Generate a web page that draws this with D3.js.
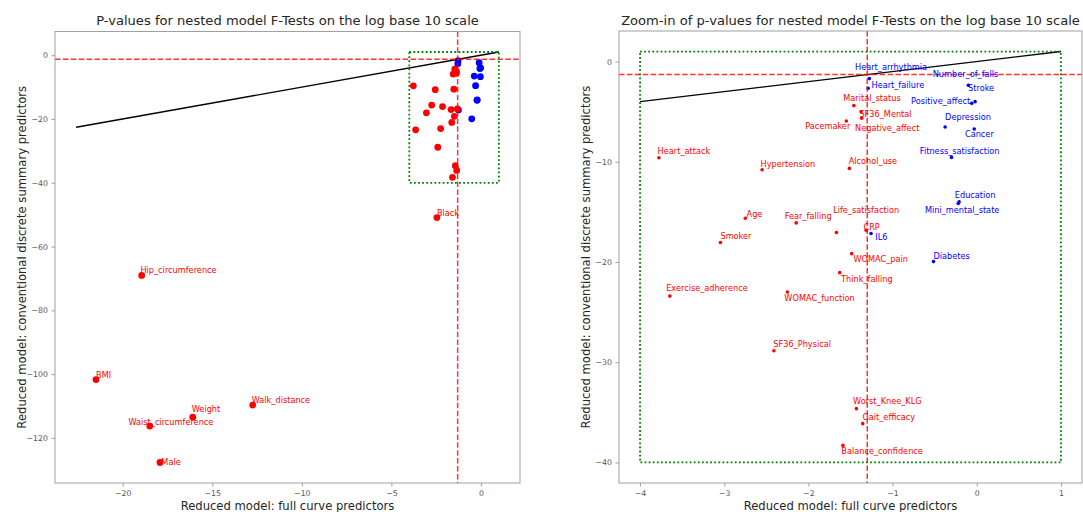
<!DOCTYPE html>
<html><head><meta charset="utf-8">
<script src="https://cdn.jsdelivr.net/npm/d3@7"></script>
<style>body{margin:0;background:#fff} svg{display:block;font-family:"DejaVu Sans",sans-serif}</style>
</head><body><svg id="c" width="1083" height="512"></svg>
<script>
// ---------------- data ----------------
const predictors = ["Heart_arrhythmia","Heart_failure","Number_of_falls","Stroke","Positive_affect","Depression","Cancer","Fitness_satisfaction","Education","Mini_mental_state","IL6","Diabetes","Marital_status","SF36_Mental","Negative_affect","Pacemaker","Heart_attack","Hypertension","Alcohol_use","Age","Fear_falling","Life_satisfaction","CRP","Smoker","WOMAC_pain","Think_falling","Exercise_adherence","WOMAC_function","SF36_Physical","Worst_Knee_KLG","Gait_efficacy","Balance_confidence","Black","Hip_circumference","BMI","Walk_distance","Weight","Waist_circumference","Male"];
const fullCurveLog10P = [-1.276,-1.29,-0.02,-0.10,-0.06,-0.376,-0.03,-0.30,-0.21,-0.22,-1.256,-0.514,-1.46,-1.374,-1.367,-1.55,-3.776,-2.55,-1.513,-2.75,-2.145,-1.667,-1.315,-3.045,-1.486,-1.628,-3.646,-2.25,-2.41,-1.43,-1.355,-1.59,-2.46,-18.94,-21.49,-12.74,-16.09,-18.49,-17.92];
const discreteLog10P = [-1.70,-2.66,-4.0,-2.36,-4.17,-6.53,-6.73,-9.56,-14.0,-14.16,-17.16,-19.96,-4.4,-5.0,-5.66,-5.93,-9.6,-10.8,-10.66,-15.63,-16.1,-17.06,-16.83,-18.06,-19.16,-21.06,-23.4,-23.0,-28.86,-34.63,-36.13,-38.3,-50.9,-69.06,-101.7,-109.7,-113.5,-116.3,-127.7];
const xTicksMain = [-20,-15,-10,-5,0];
const yTicksMain = [0,-20,-40,-60,-80,-100,-120];
const xTicksZoom = [-4,-3,-2,-1,0,1];
const yTicksZoom = [0,-10,-20,-30,-40];
const significanceLog10 = Math.log10(0.05);
const zoomBoxX = [-4, 1];
const zoomBoxY = [-40, 1];
const identityMain = [-22.6, 1];
const identityZoom = [-4, 1];
const titles = ["P-values for nested model F-Tests on the log base 10 scale","Zoom-in of p-values for nested model F-Tests on the log base 10 scale"];
const xLabelText = "Reduced model: full curve predictors";
const yLabelText = "Reduced model: conventional discrete summary predictors";

// ---------------- layout (pixel offsets of annotation text) ----------------
const mainLabelOffset = {Black:[0,-2],Hip_circumference:[-1.3,-2.5],BMI:[0,-1.8],Walk_distance:[-1,-2.2],Weight:[-1,-5],Waist_circumference:[-21.3,-1.2],Male:[1.4,2.2]};
const zoomLabelOffset = {Heart_arrhythmia:[-14.3,-8.7],Heart_failure:[3.3,0],Number_of_falls:[-42.4,-24.7],Stroke:[-0.3,5.7],Positive_affect:[-60.6,0.7],Depression:[0,-7.5],Cancer:[-9.3,8],Fitness_satisfaction:[-31.7,-3.3],Education:[-4.3,-4.2],Mini_mental_state:[-33.3,9.7],IL6:[4.3,6.2],Diabetes:[0,-2.5],Marital_status:[-10.6,-4.2],SF36_Mental:[-1.7,5.8],Negative_affect:[-6.6,12.7],Pacemaker:[-41,8.5],Heart_attack:[-1.3,-4.2],Hypertension:[-1.6,-3.2],Alcohol_use:[-0.7,-4.3],Age:[1.3,-1.5],Fear_falling:[-11.4,-4.2],Life_satisfaction:[-3.3,-19.5],CRP:[-2.6,0],Smoker:[0,-3.5],WOMAC_pain:[1.7,8.7],Think_falling:[1.4,9.5],Exercise_adherence:[-3.7,-4.7],WOMAC_function:[-3,9.1],SF36_Physical:[-0.6,-4.3],Worst_Knee_KLG:[-3.3,-4.2],Gait_efficacy:[-0.3,-4],Balance_confidence:[-1.6,8.8]};

const points = predictors.map((n,i)=>({name:n,x:fullCurveLog10P[i],y:discreteLog10P[i]}));
const inBox = p => p.x>=zoomBoxX[0] && p.x<=zoomBoxX[1] && p.y>=zoomBoxY[0] && p.y<=zoomBoxY[1];
const colorOf = p => p.x < significanceLog10 ? "#ff0000" : "#0000ff";

const svg = d3.select("#c");
function pad(ext){const r=ext[1]-ext[0];return [ext[0]-0.05*r, ext[1]+0.05*r];}

function panel(cfg){
  const g = svg.append("g");
  const x = d3.scaleLinear().domain(cfg.xDom).range([cfg.x0,cfg.x1]);
  const y = d3.scaleLinear().domain(cfg.yDom).range([cfg.y1,cfg.y0]);
  const clipId = "clip"+cfg.id;
  svg.append("clipPath").attr("id",clipId).append("rect")
    .attr("x",cfg.x0).attr("y",cfg.y0).attr("width",cfg.x1-cfg.x0).attr("height",cfg.y1-cfg.y0);
  const plot = g.append("g").attr("clip-path",`url(#${clipId})`);
  // points
  plot.selectAll("circle").data(cfg.pts).join("circle")
    .attr("cx",d=>x(d.x)).attr("cy",d=>y(d.y)).attr("r",cfg.r).attr("fill",colorOf);
  // identity line
  plot.append("line").attr("x1",x(cfg.identity[0])).attr("y1",y(cfg.identity[0]))
    .attr("x2",x(cfg.identity[1])).attr("y2",y(cfg.identity[1]))
    .attr("stroke","#000").attr("stroke-width",1.4);
  // significance lines
  plot.append("line").attr("x1",x(significanceLog10)).attr("x2",x(significanceLog10))
    .attr("y1",cfg.y0).attr("y2",cfg.y1)
    .attr("stroke","#ff0000").attr("stroke-opacity",0.8).attr("stroke-width",1.5).attr("stroke-dasharray","5.5,2.4");
  plot.append("line").attr("y1",y(significanceLog10)).attr("y2",y(significanceLog10))
    .attr("x1",cfg.x0).attr("x2",cfg.x1)
    .attr("stroke","#ff0000").attr("stroke-opacity",0.8).attr("stroke-width",1.5).attr("stroke-dasharray","5.5,2.4");
  // zoom box
  plot.append("rect").attr("x",x(zoomBoxX[0])).attr("y",y(zoomBoxY[1]))
    .attr("width",x(zoomBoxX[1])-x(zoomBoxX[0])).attr("height",y(zoomBoxY[0])-y(zoomBoxY[1]))
    .attr("fill","none").attr("stroke","#008000").attr("stroke-width",1.8).attr("stroke-dasharray","1.8,2.3");
  // labels
  g.selectAll("text.lab").data(cfg.labelPts).join("text").attr("class","lab")
    .attr("x",d=>x(d.x)+cfg.off[d.name][0]).attr("y",d=>y(d.y)+cfg.off[d.name][1])
    .attr("fill",colorOf).attr("font-size",8.2).text(d=>d.name);
  // frame
  g.append("rect").attr("x",cfg.x0).attr("y",cfg.y0).attr("width",cfg.x1-cfg.x0).attr("height",cfg.y1-cfg.y0)
    .attr("fill","none").attr("stroke","#a0a0a0").attr("stroke-width",1);
  // axes
  const fmt = v => (v<0?"\u2212":"")+Math.abs(v);
  const xa = g.append("g").attr("transform",`translate(0,${cfg.y1})`)
    .call(d3.axisBottom(x).tickValues(cfg.xTicks).tickFormat(fmt).tickSize(3.5).tickPadding(3.5));
  const ya = g.append("g").attr("transform",`translate(${cfg.x0},0)`)
    .call(d3.axisLeft(y).tickValues(cfg.yTicks).tickFormat(fmt).tickSize(3.5).tickPadding(3.5));
  [xa,ya].forEach(a=>{
    a.select(".domain").remove();
    a.selectAll("line").attr("stroke","#a0a0a0");
    a.selectAll("text").attr("fill","#555").attr("font-size",7.8).attr("font-family","DejaVu Sans");
  });
  // titles
  g.append("text").attr("x",(cfg.x0+cfg.x1)/2).attr("y",25).attr("text-anchor","middle")
    .attr("font-size",13.1).attr("fill","#262626").text(cfg.title);
  g.append("text").attr("x",(cfg.x0+cfg.x1)/2).attr("y",509.5).attr("text-anchor","middle")
    .attr("font-size",11.6).attr("fill","#262626").text(xLabelText);
  g.append("text").attr("transform",`translate(${cfg.yLabX},${(cfg.y0+cfg.y1)/2}) rotate(-90)`)
    .attr("text-anchor","middle").attr("font-size",11.6).attr("fill","#262626").text(yLabelText);
}

const mainXExt = d3.extent(points.map(p=>p.x).concat(identityMain, zoomBoxX));
const mainYExt = d3.extent(points.map(p=>p.y).concat(identityMain, zoomBoxY));
panel({id:"m", x0:55, x1:520, y0:31.5, y1:483, xDom:pad(mainXExt), yDom:pad(mainYExt),
  pts:points, labelPts:points.filter(p=>!inBox(p)), off:mainLabelOffset, r:3.4,
  identity:identityMain, xTicks:xTicksMain, yTicks:yTicksMain, title:titles[0], yLabX:26});
panel({id:"z", x0:619, x1:1082, y0:31, y1:483, xDom:pad(zoomBoxX), yDom:pad(zoomBoxY),
  pts:points.filter(inBox), labelPts:points.filter(inBox), off:zoomLabelOffset, r:1.8,
  identity:identityZoom, xTicks:xTicksZoom, yTicks:yTicksZoom, title:titles[1], yLabX:590});
</script></body></html>
